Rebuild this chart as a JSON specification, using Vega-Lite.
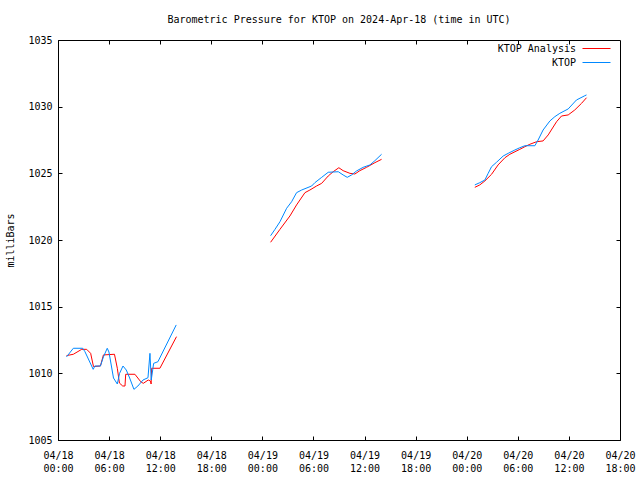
{
  "$schema": "https://vega.github.io/schema/vega-lite/v6.json",
  "width": 562,
  "height": 400,
  "autosize": "none",
  "padding": {"left": 58, "top": 40, "right": 20, "bottom": 40},
  "background": "white",
  "title": {"text": "Barometric Pressure for KTOP on 2024-Apr-18 (time in UTC)", "fontSize": 10, "font": "DejaVu Sans Mono", "fontWeight": "normal", "anchor": "middle", "offset": 10, "color": "black"},
  "config": {
    "font": "DejaVu Sans Mono",
    "view": {"stroke": "black", "strokeWidth": 1},
    "axis": {"grid": false, "domainColor": "black", "tickColor": "black", "labelColor": "black", "labelFontSize": 10, "labelFont": "DejaVu Sans Mono", "titleFont": "DejaVu Sans Mono", "titleFontSize": 10, "titleFontWeight": "normal", "titleColor": "black", "tickSize": -4}
  },
  "data": {"values": [
    {"t": "2024-04-18T01:00Z", "p": 1011.33, "s": "KTOP Analysis", "seg": 1},
    {"t": "2024-04-18T01:48Z", "p": 1011.43, "s": "KTOP Analysis", "seg": 1},
    {"t": "2024-04-18T02:47Z", "p": 1011.80, "s": "KTOP Analysis", "seg": 1},
    {"t": "2024-04-18T03:22Z", "p": 1011.80, "s": "KTOP Analysis", "seg": 1},
    {"t": "2024-04-18T03:50Z", "p": 1011.50, "s": "KTOP Analysis", "seg": 1},
    {"t": "2024-04-18T04:10Z", "p": 1010.51, "s": "KTOP Analysis", "seg": 1},
    {"t": "2024-04-18T04:59Z", "p": 1010.55, "s": "KTOP Analysis", "seg": 1},
    {"t": "2024-04-18T05:20Z", "p": 1011.38, "s": "KTOP Analysis", "seg": 1},
    {"t": "2024-04-18T06:38Z", "p": 1011.43, "s": "KTOP Analysis", "seg": 1},
    {"t": "2024-04-18T06:58Z", "p": 1010.38, "s": "KTOP Analysis", "seg": 1},
    {"t": "2024-04-18T07:13Z", "p": 1009.27, "s": "KTOP Analysis", "seg": 1},
    {"t": "2024-04-18T07:36Z", "p": 1009.05, "s": "KTOP Analysis", "seg": 1},
    {"t": "2024-04-18T07:52Z", "p": 1009.05, "s": "KTOP Analysis", "seg": 1},
    {"t": "2024-04-18T07:57Z", "p": 1009.93, "s": "KTOP Analysis", "seg": 1},
    {"t": "2024-04-18T09:02Z", "p": 1009.93, "s": "KTOP Analysis", "seg": 1},
    {"t": "2024-04-18T09:43Z", "p": 1009.37, "s": "KTOP Analysis", "seg": 1},
    {"t": "2024-04-18T10:01Z", "p": 1009.25, "s": "KTOP Analysis", "seg": 1},
    {"t": "2024-04-18T10:36Z", "p": 1009.50, "s": "KTOP Analysis", "seg": 1},
    {"t": "2024-04-18T10:52Z", "p": 1009.42, "s": "KTOP Analysis", "seg": 1},
    {"t": "2024-04-18T10:56Z", "p": 1009.20, "s": "KTOP Analysis", "seg": 1},
    {"t": "2024-04-18T11:00Z", "p": 1010.38, "s": "KTOP Analysis", "seg": 1},
    {"t": "2024-04-18T11:58Z", "p": 1010.38, "s": "KTOP Analysis", "seg": 1},
    {"t": "2024-04-18T13:55Z", "p": 1012.75, "s": "KTOP Analysis", "seg": 1},
    {"t": "2024-04-19T00:58Z", "p": 1019.83, "s": "KTOP Analysis", "seg": 2},
    {"t": "2024-04-19T02:04Z", "p": 1020.80, "s": "KTOP Analysis", "seg": 2},
    {"t": "2024-04-19T03:14Z", "p": 1021.80, "s": "KTOP Analysis", "seg": 2},
    {"t": "2024-04-19T04:01Z", "p": 1022.63, "s": "KTOP Analysis", "seg": 2},
    {"t": "2024-04-19T05:00Z", "p": 1023.55, "s": "KTOP Analysis", "seg": 2},
    {"t": "2024-04-19T05:35Z", "p": 1023.75, "s": "KTOP Analysis", "seg": 2},
    {"t": "2024-04-19T06:22Z", "p": 1024.05, "s": "KTOP Analysis", "seg": 2},
    {"t": "2024-04-19T06:58Z", "p": 1024.25, "s": "KTOP Analysis", "seg": 2},
    {"t": "2024-04-19T07:44Z", "p": 1024.80, "s": "KTOP Analysis", "seg": 2},
    {"t": "2024-04-19T08:19Z", "p": 1025.12, "s": "KTOP Analysis", "seg": 2},
    {"t": "2024-04-19T08:59Z", "p": 1025.42, "s": "KTOP Analysis", "seg": 2},
    {"t": "2024-04-19T09:29Z", "p": 1025.20, "s": "KTOP Analysis", "seg": 2},
    {"t": "2024-04-19T10:17Z", "p": 1025.00, "s": "KTOP Analysis", "seg": 2},
    {"t": "2024-04-19T10:52Z", "p": 1024.95, "s": "KTOP Analysis", "seg": 2},
    {"t": "2024-04-19T11:27Z", "p": 1025.20, "s": "KTOP Analysis", "seg": 2},
    {"t": "2024-04-19T12:14Z", "p": 1025.45, "s": "KTOP Analysis", "seg": 2},
    {"t": "2024-04-19T13:13Z", "p": 1025.80, "s": "KTOP Analysis", "seg": 2},
    {"t": "2024-04-19T14:00Z", "p": 1026.05, "s": "KTOP Analysis", "seg": 2},
    {"t": "2024-04-20T00:57Z", "p": 1023.95, "s": "KTOP Analysis", "seg": 3},
    {"t": "2024-04-20T01:32Z", "p": 1024.13, "s": "KTOP Analysis", "seg": 3},
    {"t": "2024-04-20T02:08Z", "p": 1024.43, "s": "KTOP Analysis", "seg": 3},
    {"t": "2024-04-20T02:55Z", "p": 1024.93, "s": "KTOP Analysis", "seg": 3},
    {"t": "2024-04-20T03:41Z", "p": 1025.63, "s": "KTOP Analysis", "seg": 3},
    {"t": "2024-04-20T04:29Z", "p": 1026.17, "s": "KTOP Analysis", "seg": 3},
    {"t": "2024-04-20T05:04Z", "p": 1026.43, "s": "KTOP Analysis", "seg": 3},
    {"t": "2024-04-20T06:14Z", "p": 1026.80, "s": "KTOP Analysis", "seg": 3},
    {"t": "2024-04-20T06:50Z", "p": 1027.00, "s": "KTOP Analysis", "seg": 3},
    {"t": "2024-04-20T07:25Z", "p": 1027.18, "s": "KTOP Analysis", "seg": 3},
    {"t": "2024-04-20T08:12Z", "p": 1027.37, "s": "KTOP Analysis", "seg": 3},
    {"t": "2024-04-20T08:58Z", "p": 1027.43, "s": "KTOP Analysis", "seg": 3},
    {"t": "2024-04-20T09:34Z", "p": 1027.88, "s": "KTOP Analysis", "seg": 3},
    {"t": "2024-04-20T10:33Z", "p": 1028.87, "s": "KTOP Analysis", "seg": 3},
    {"t": "2024-04-20T11:08Z", "p": 1029.30, "s": "KTOP Analysis", "seg": 3},
    {"t": "2024-04-20T11:55Z", "p": 1029.38, "s": "KTOP Analysis", "seg": 3},
    {"t": "2024-04-20T12:41Z", "p": 1029.75, "s": "KTOP Analysis", "seg": 3},
    {"t": "2024-04-20T13:29Z", "p": 1030.25, "s": "KTOP Analysis", "seg": 3},
    {"t": "2024-04-20T14:04Z", "p": 1030.67, "s": "KTOP Analysis", "seg": 3},
    {"t": "2024-04-18T01:00Z", "p": 1011.23, "s": "KTOP", "seg": 1},
    {"t": "2024-04-18T01:48Z", "p": 1011.88, "s": "KTOP", "seg": 1},
    {"t": "2024-04-18T02:54Z", "p": 1011.88, "s": "KTOP", "seg": 1},
    {"t": "2024-04-18T03:10Z", "p": 1011.62, "s": "KTOP", "seg": 1},
    {"t": "2024-04-18T04:08Z", "p": 1010.30, "s": "KTOP", "seg": 1},
    {"t": "2024-04-18T04:20Z", "p": 1010.55, "s": "KTOP", "seg": 1},
    {"t": "2024-04-18T04:59Z", "p": 1010.55, "s": "KTOP", "seg": 1},
    {"t": "2024-04-18T05:20Z", "p": 1011.23, "s": "KTOP", "seg": 1},
    {"t": "2024-04-18T05:47Z", "p": 1011.88, "s": "KTOP", "seg": 1},
    {"t": "2024-04-18T05:59Z", "p": 1011.60, "s": "KTOP", "seg": 1},
    {"t": "2024-04-18T06:31Z", "p": 1009.65, "s": "KTOP", "seg": 1},
    {"t": "2024-04-18T06:58Z", "p": 1009.20, "s": "KTOP", "seg": 1},
    {"t": "2024-04-18T07:14Z", "p": 1010.00, "s": "KTOP", "seg": 1},
    {"t": "2024-04-18T07:38Z", "p": 1010.55, "s": "KTOP", "seg": 1},
    {"t": "2024-04-18T08:01Z", "p": 1010.25, "s": "KTOP", "seg": 1},
    {"t": "2024-04-18T08:25Z", "p": 1009.65, "s": "KTOP", "seg": 1},
    {"t": "2024-04-18T08:55Z", "p": 1008.80, "s": "KTOP", "seg": 1},
    {"t": "2024-04-18T09:23Z", "p": 1009.05, "s": "KTOP", "seg": 1},
    {"t": "2024-04-18T09:59Z", "p": 1009.50, "s": "KTOP", "seg": 1},
    {"t": "2024-04-18T10:34Z", "p": 1009.67, "s": "KTOP", "seg": 1},
    {"t": "2024-04-18T10:48Z", "p": 1011.50, "s": "KTOP", "seg": 1},
    {"t": "2024-04-18T10:57Z", "p": 1009.50, "s": "KTOP", "seg": 1},
    {"t": "2024-04-18T11:14Z", "p": 1010.75, "s": "KTOP", "seg": 1},
    {"t": "2024-04-18T11:44Z", "p": 1010.87, "s": "KTOP", "seg": 1},
    {"t": "2024-04-18T13:53Z", "p": 1013.63, "s": "KTOP", "seg": 1},
    {"t": "2024-04-19T00:58Z", "p": 1020.32, "s": "KTOP", "seg": 2},
    {"t": "2024-04-19T01:29Z", "p": 1020.80, "s": "KTOP", "seg": 2},
    {"t": "2024-04-19T02:04Z", "p": 1021.37, "s": "KTOP", "seg": 2},
    {"t": "2024-04-19T02:51Z", "p": 1022.38, "s": "KTOP", "seg": 2},
    {"t": "2024-04-19T03:26Z", "p": 1022.87, "s": "KTOP", "seg": 2},
    {"t": "2024-04-19T04:01Z", "p": 1023.55, "s": "KTOP", "seg": 2},
    {"t": "2024-04-19T04:37Z", "p": 1023.75, "s": "KTOP", "seg": 2},
    {"t": "2024-04-19T05:47Z", "p": 1024.05, "s": "KTOP", "seg": 2},
    {"t": "2024-04-19T06:10Z", "p": 1024.30, "s": "KTOP", "seg": 2},
    {"t": "2024-04-19T06:58Z", "p": 1024.70, "s": "KTOP", "seg": 2},
    {"t": "2024-04-19T07:44Z", "p": 1025.08, "s": "KTOP", "seg": 2},
    {"t": "2024-04-19T08:55Z", "p": 1025.12, "s": "KTOP", "seg": 2},
    {"t": "2024-04-19T09:29Z", "p": 1024.88, "s": "KTOP", "seg": 2},
    {"t": "2024-04-19T09:58Z", "p": 1024.70, "s": "KTOP", "seg": 2},
    {"t": "2024-04-19T10:29Z", "p": 1024.88, "s": "KTOP", "seg": 2},
    {"t": "2024-04-19T11:04Z", "p": 1025.18, "s": "KTOP", "seg": 2},
    {"t": "2024-04-19T11:50Z", "p": 1025.45, "s": "KTOP", "seg": 2},
    {"t": "2024-04-19T12:38Z", "p": 1025.63, "s": "KTOP", "seg": 2},
    {"t": "2024-04-19T13:13Z", "p": 1025.95, "s": "KTOP", "seg": 2},
    {"t": "2024-04-19T14:00Z", "p": 1026.43, "s": "KTOP", "seg": 2},
    {"t": "2024-04-20T00:57Z", "p": 1024.13, "s": "KTOP", "seg": 3},
    {"t": "2024-04-20T01:32Z", "p": 1024.30, "s": "KTOP", "seg": 3},
    {"t": "2024-04-20T02:08Z", "p": 1024.50, "s": "KTOP", "seg": 3},
    {"t": "2024-04-20T02:31Z", "p": 1025.00, "s": "KTOP", "seg": 3},
    {"t": "2024-04-20T02:55Z", "p": 1025.50, "s": "KTOP", "seg": 3},
    {"t": "2024-04-20T03:30Z", "p": 1025.83, "s": "KTOP", "seg": 3},
    {"t": "2024-04-20T04:17Z", "p": 1026.30, "s": "KTOP", "seg": 3},
    {"t": "2024-04-20T04:52Z", "p": 1026.50, "s": "KTOP", "seg": 3},
    {"t": "2024-04-20T05:39Z", "p": 1026.75, "s": "KTOP", "seg": 3},
    {"t": "2024-04-20T06:14Z", "p": 1026.92, "s": "KTOP", "seg": 3},
    {"t": "2024-04-20T06:50Z", "p": 1027.07, "s": "KTOP", "seg": 3},
    {"t": "2024-04-20T08:00Z", "p": 1027.07, "s": "KTOP", "seg": 3},
    {"t": "2024-04-20T08:23Z", "p": 1027.50, "s": "KTOP", "seg": 3},
    {"t": "2024-04-20T08:58Z", "p": 1028.25, "s": "KTOP", "seg": 3},
    {"t": "2024-04-20T09:46Z", "p": 1028.93, "s": "KTOP", "seg": 3},
    {"t": "2024-04-20T10:21Z", "p": 1029.25, "s": "KTOP", "seg": 3},
    {"t": "2024-04-20T10:56Z", "p": 1029.50, "s": "KTOP", "seg": 3},
    {"t": "2024-04-20T11:55Z", "p": 1029.83, "s": "KTOP", "seg": 3},
    {"t": "2024-04-20T12:53Z", "p": 1030.50, "s": "KTOP", "seg": 3},
    {"t": "2024-04-20T13:52Z", "p": 1030.82, "s": "KTOP", "seg": 3},
    {"t": "2024-04-20T14:04Z", "p": 1030.88, "s": "KTOP", "seg": 3}
  ]},
  "resolve": {"axis": {"x": "independent", "y": "independent"}},
  "layer": [
    {
      "mark": {"type": "line", "strokeWidth": 1, "interpolate": "linear"},
      "encoding": {
        "x": {"field": "t", "type": "temporal",
              "scale": {"type": "utc", "domain": [{"year": 2024, "month": 4, "date": 18, "hours": 0, "utc": true}, {"year": 2024, "month": 4, "date": 20, "hours": 18, "utc": true}]},
              "axis": {"title": null, "orient": "bottom", "labelPadding": 14, "labelLineHeight": 13, "labelBaseline": "top",
                       "values": [
                         {"year": 2024, "month": 4, "date": 18, "hours": 0, "utc": true},
                         {"year": 2024, "month": 4, "date": 18, "hours": 6, "utc": true},
                         {"year": 2024, "month": 4, "date": 18, "hours": 12, "utc": true},
                         {"year": 2024, "month": 4, "date": 18, "hours": 18, "utc": true},
                         {"year": 2024, "month": 4, "date": 19, "hours": 0, "utc": true},
                         {"year": 2024, "month": 4, "date": 19, "hours": 6, "utc": true},
                         {"year": 2024, "month": 4, "date": 19, "hours": 12, "utc": true},
                         {"year": 2024, "month": 4, "date": 19, "hours": 18, "utc": true},
                         {"year": 2024, "month": 4, "date": 20, "hours": 0, "utc": true},
                         {"year": 2024, "month": 4, "date": 20, "hours": 6, "utc": true},
                         {"year": 2024, "month": 4, "date": 20, "hours": 12, "utc": true},
                         {"year": 2024, "month": 4, "date": 20, "hours": 18, "utc": true}
                       ],
                       "labelExpr": "[utcFormat(datum.value, '%m/%d'), utcFormat(datum.value, '%H:%M')]",
                       "labelFlush": false, "labelOverlap": false}},
        "y": {"field": "p", "type": "quantitative",
              "scale": {"domain": [1005, 1035], "zero": false, "nice": false},
              "axis": {"title": "milliBars", "orient": "left", "values": [1005, 1010, 1015, 1020, 1025, 1030, 1035], "labelPadding": 10, "titlePadding": 12, "format": "d"}},
        "color": {"field": "s", "type": "nominal",
                  "scale": {"domain": ["KTOP Analysis", "KTOP"], "range": ["#ff0000", "#0088ff"]},
                  "legend": {"orient": "none", "legendX": 531, "legendY": 1, "title": null, "symbolType": "M-2,0H2", "symbolSize": 196, "symbolStrokeWidth": 1, "labelAlign": "right", "labelOffset": -28, "labelFontSize": 10, "labelFont": "DejaVu Sans Mono", "labelColor": "black", "rowPadding": 1, "padding": 0}},
        "detail": {"field": "seg", "type": "nominal"}
      }
    },
    {
      "mark": {"type": "line", "opacity": 0},
      "encoding": {
        "x": {"field": "t", "type": "temporal",
              "scale": {"type": "utc", "domain": [{"year": 2024, "month": 4, "date": 18, "hours": 0, "utc": true}, {"year": 2024, "month": 4, "date": 20, "hours": 18, "utc": true}]},
              "axis": {"title": null, "orient": "top", "labels": false, "domain": false,
                       "values": [
                         {"year": 2024, "month": 4, "date": 18, "hours": 6, "utc": true},
                         {"year": 2024, "month": 4, "date": 18, "hours": 12, "utc": true},
                         {"year": 2024, "month": 4, "date": 18, "hours": 18, "utc": true},
                         {"year": 2024, "month": 4, "date": 19, "hours": 0, "utc": true},
                         {"year": 2024, "month": 4, "date": 19, "hours": 6, "utc": true},
                         {"year": 2024, "month": 4, "date": 19, "hours": 12, "utc": true},
                         {"year": 2024, "month": 4, "date": 19, "hours": 18, "utc": true},
                         {"year": 2024, "month": 4, "date": 20, "hours": 0, "utc": true},
                         {"year": 2024, "month": 4, "date": 20, "hours": 6, "utc": true},
                         {"year": 2024, "month": 4, "date": 20, "hours": 12, "utc": true}
                       ]}},
        "y": {"field": "p", "type": "quantitative",
              "scale": {"domain": [1005, 1035], "zero": false, "nice": false},
              "axis": {"title": null, "orient": "right", "labels": false, "domain": false, "values": [1010, 1015, 1020, 1025, 1030]}},
        "detail": {"field": "seg", "type": "nominal"}
      }
    }
  ]
}
